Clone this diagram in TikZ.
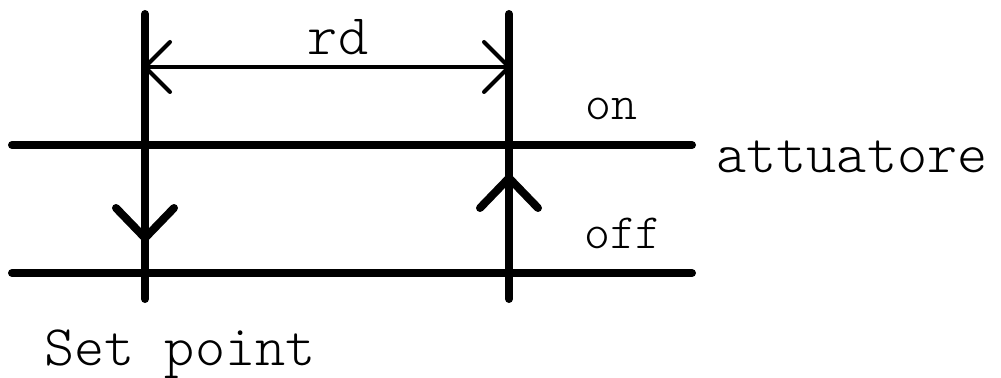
\documentclass[tikz,border=0pt]{standalone}
\usepackage{fontspec}
\setmonofont{Latin Modern Mono Light}
\begin{document}
\begin{tikzpicture}[x=0.75pt,y=-0.75pt,
  thick line/.style={line width=6pt,line cap=round,line join=round},
  thin line/.style={line width=3pt,line cap=round,line join=round},
  bigtxt/.style={inner sep=0pt,anchor=base,font=\ttfamily\fontsize{43}{45}\selectfont},
  smalltxt/.style={inner sep=0pt,anchor=base,font=\ttfamily\fontsize{37}{39}\selectfont}]
\useasboundingbox (0,0) rectangle (1001,378);
% levels
\coordinate (onL) at (12,145);
\coordinate (onR) at (692,145);
\coordinate (offL) at (12,273);
\coordinate (offR) at (692,273);
% vertical markers
\coordinate (spT) at (145,14);
\coordinate (spB) at (145,299);
\coordinate (rdT) at (509,14);
\coordinate (rdB) at (509,299);
% dimension
\coordinate (dimL) at (145,67);
\coordinate (dimR) at (509,67);
% arrow tips
\coordinate (downTip) at (145,238);
\coordinate (upTip) at (509,178);

\draw[thick line] (onL) -- (onR);
\draw[thick line] (offL) -- (offR);
\draw[thick line] (spT) -- (spB);
\draw[thick line] (rdT) -- (rdB);

\draw[thin line] (dimL) -- (dimR);
\draw[thin line] ([shift={(25,-25)}]dimL) -- (dimL) -- ([shift={(25,25)}]dimL);
\draw[thin line] ([shift={(-25,-25)}]dimR) -- (dimR) -- ([shift={(-25,25)}]dimR);

\draw[thick line] ([shift={(-29,-30)}]downTip) -- (downTip) -- ([shift={(29,-30)}]downTip);
\draw[thick line] ([shift={(-29,30)}]upTip) -- (upTip) -- ([shift={(29,30)}]upTip);

\node[bigtxt] (rd) at (338,55) {rd};
\node[smalltxt] (on) at (611,120) {on};
\node[smalltxt] (off) at (623,248) {off};
\node[bigtxt] (att) at (852,172) {attuatore};
\node[bigtxt] (sp) at (180,365) {Set point};
\end{tikzpicture}
\end{document}
